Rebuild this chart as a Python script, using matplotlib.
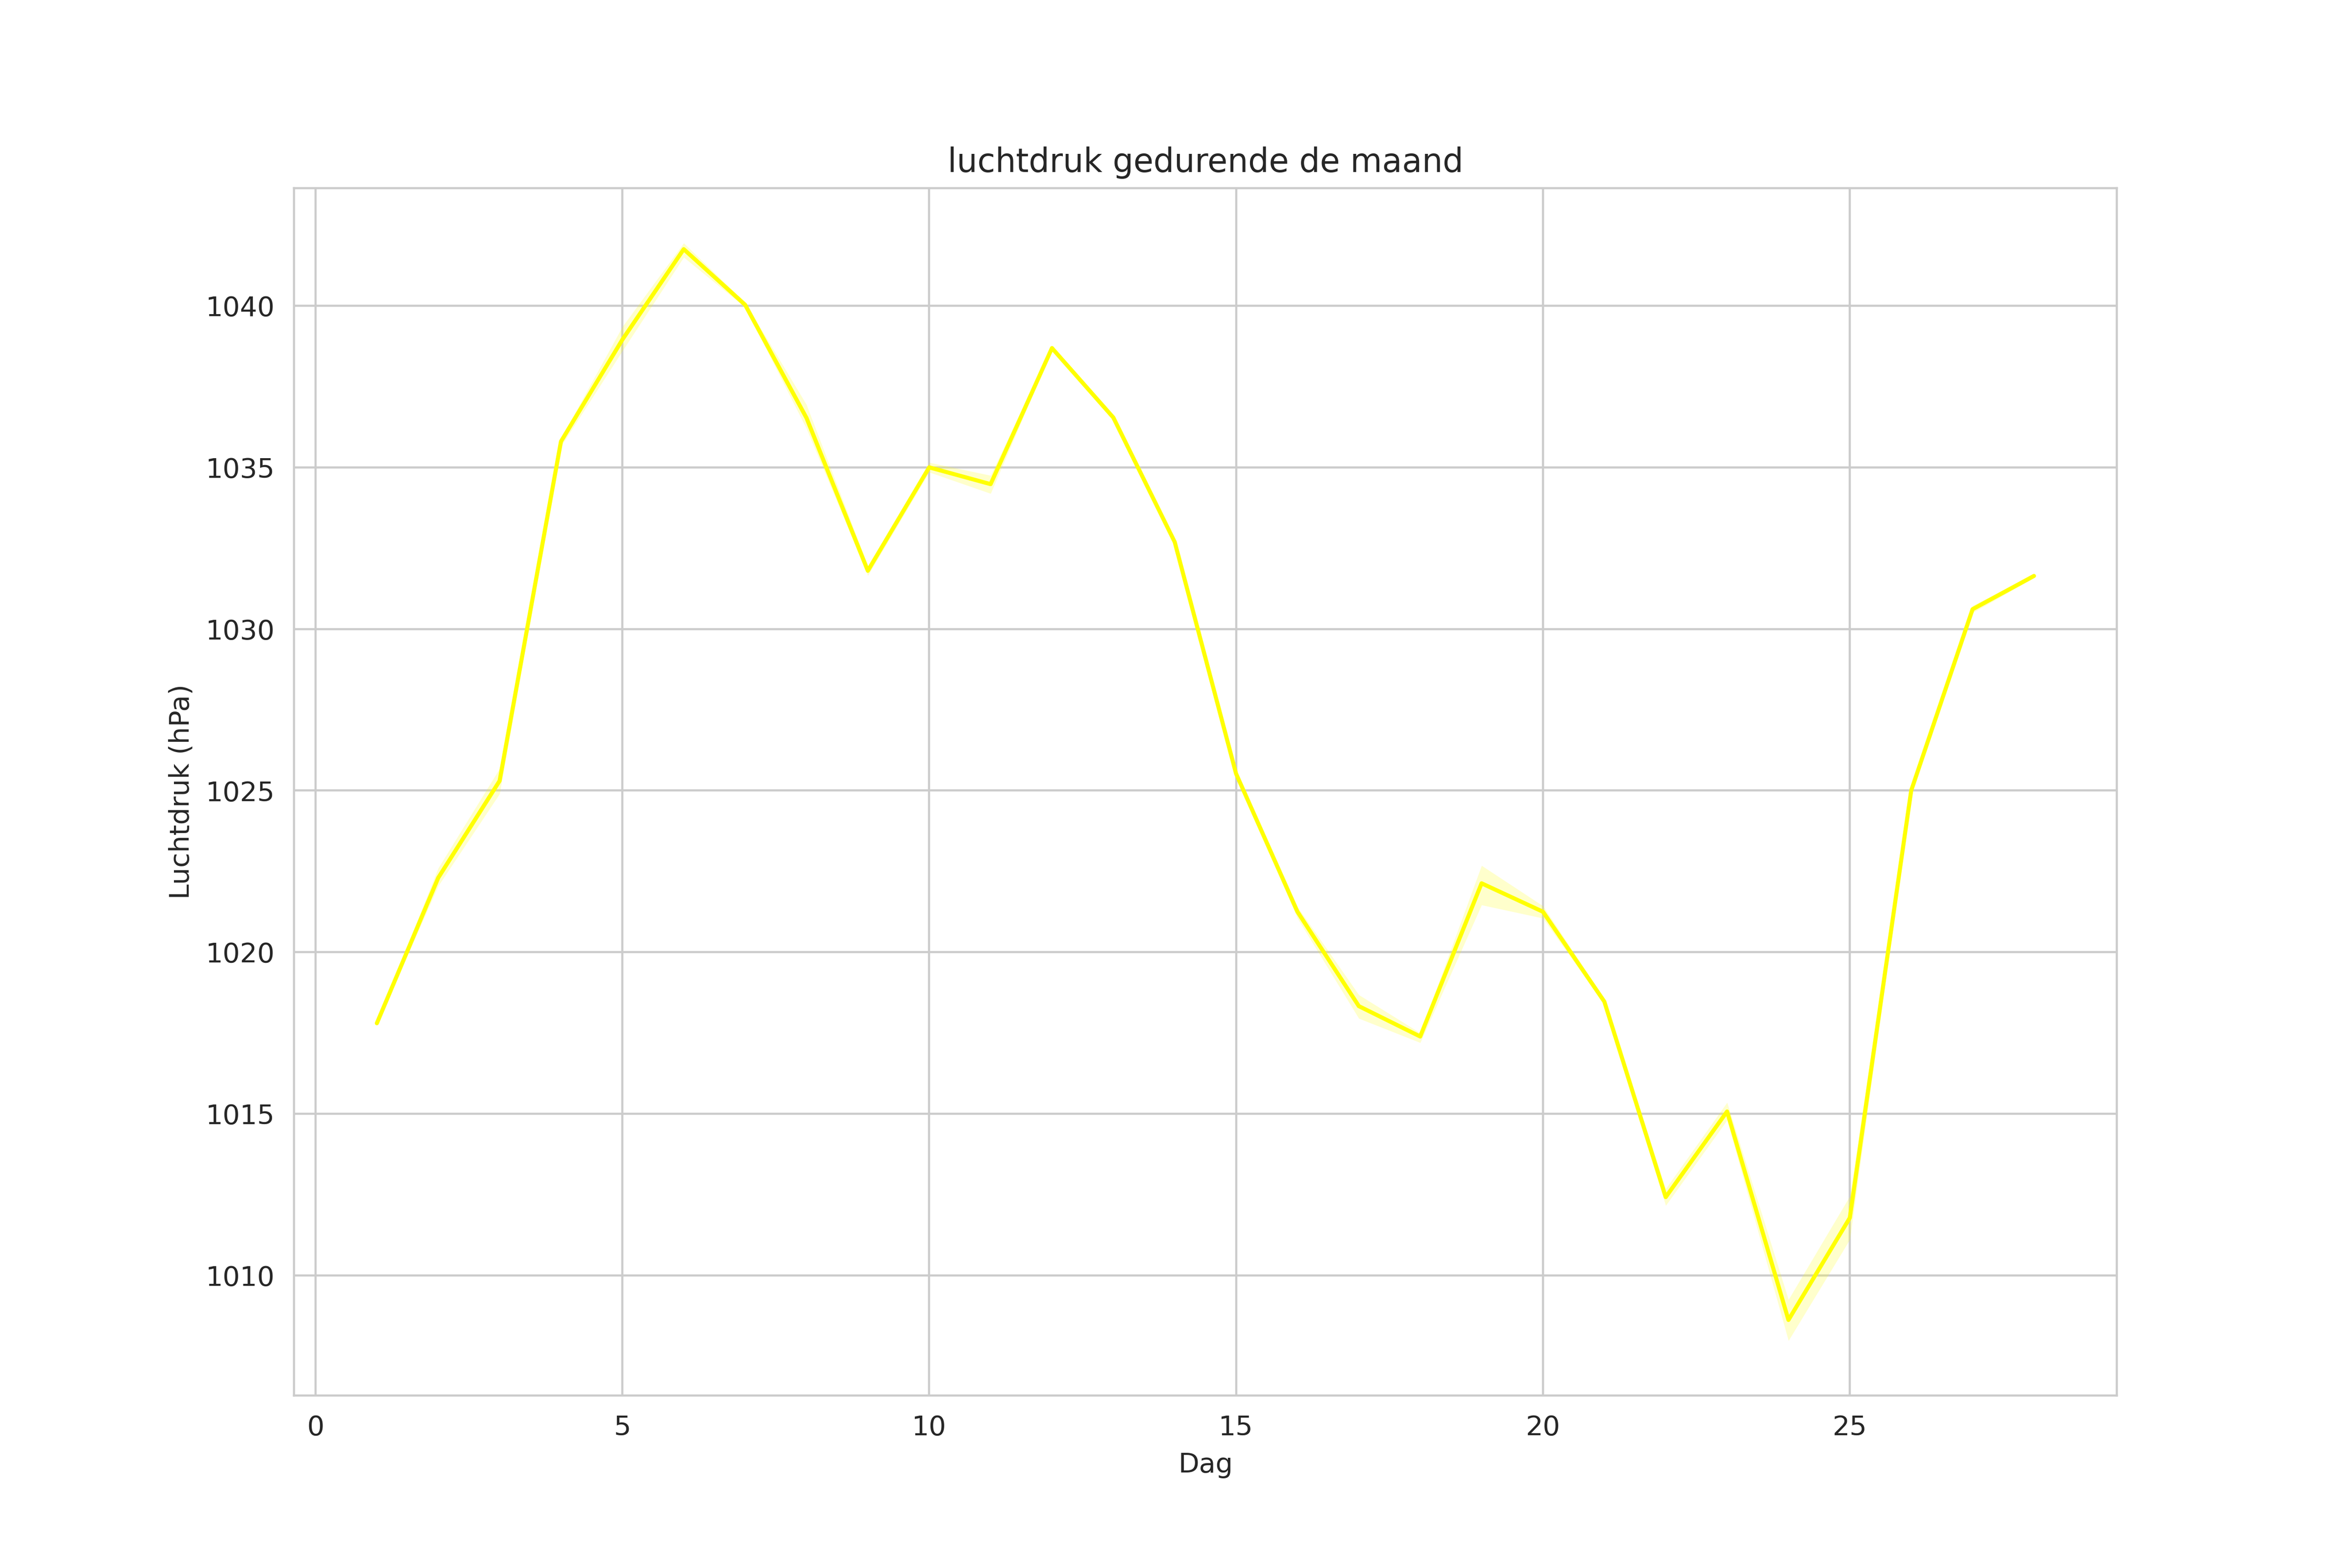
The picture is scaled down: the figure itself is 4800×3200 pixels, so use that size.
import numpy as np
import matplotlib
matplotlib.use('Agg')
import matplotlib.pyplot as plt
import seaborn as sns

# daily mean air pressure (hPa) and the confidence band around it
dagen = list(range(1, 29))
luchtdruk = [1017.8, 1022.3, 1025.3, 1035.8, 1038.95, 1041.75, 1040.03, 1036.53,
             1031.8, 1035.0, 1034.48, 1038.69, 1036.54, 1032.69, 1025.52, 1021.25,
             1018.33, 1017.39, 1022.13, 1021.25, 1018.47, 1012.42, 1015.07, 1008.62,
             1011.78, 1025.0, 1030.61, 1031.64]
ci_laag = [1017.75, 1022.05, 1024.9, 1035.65, 1038.6, 1041.5, 1039.95, 1036.2,
           1031.65, 1034.85, 1034.19, 1038.62, 1036.47, 1032.6, 1025.4, 1021.05,
           1017.95, 1017.2, 1021.46, 1021.05, 1018.38, 1012.16, 1014.8, 1007.98,
           1011.11, 1024.85, 1030.5, 1031.58]
ci_hoog = [1017.85, 1022.6, 1025.68, 1035.9, 1039.35, 1041.94, 1040.1, 1036.94,
           1031.95, 1035.15, 1034.75, 1038.76, 1036.6, 1032.78, 1025.65, 1021.4,
           1018.68, 1017.5, 1022.68, 1021.43, 1018.56, 1012.68, 1015.35, 1009.25,
           1012.45, 1025.15, 1030.72, 1031.7]

sns.set_style('whitegrid')
fig, ax = plt.subplots(figsize=(12, 8), dpi=400)

ax.fill_between(dagen, ci_laag, ci_hoog, color='yellow', alpha=0.2, linewidth=0)
ax.plot(dagen, luchtdruk, color='yellow', linewidth=1.5)

ax.set_title('luchtdruk gedurende de maand')
ax.set_xlabel('Dag')
ax.set_ylabel('Luchtdruk (hPa)')

fig.savefig('out.png', dpi=400)
